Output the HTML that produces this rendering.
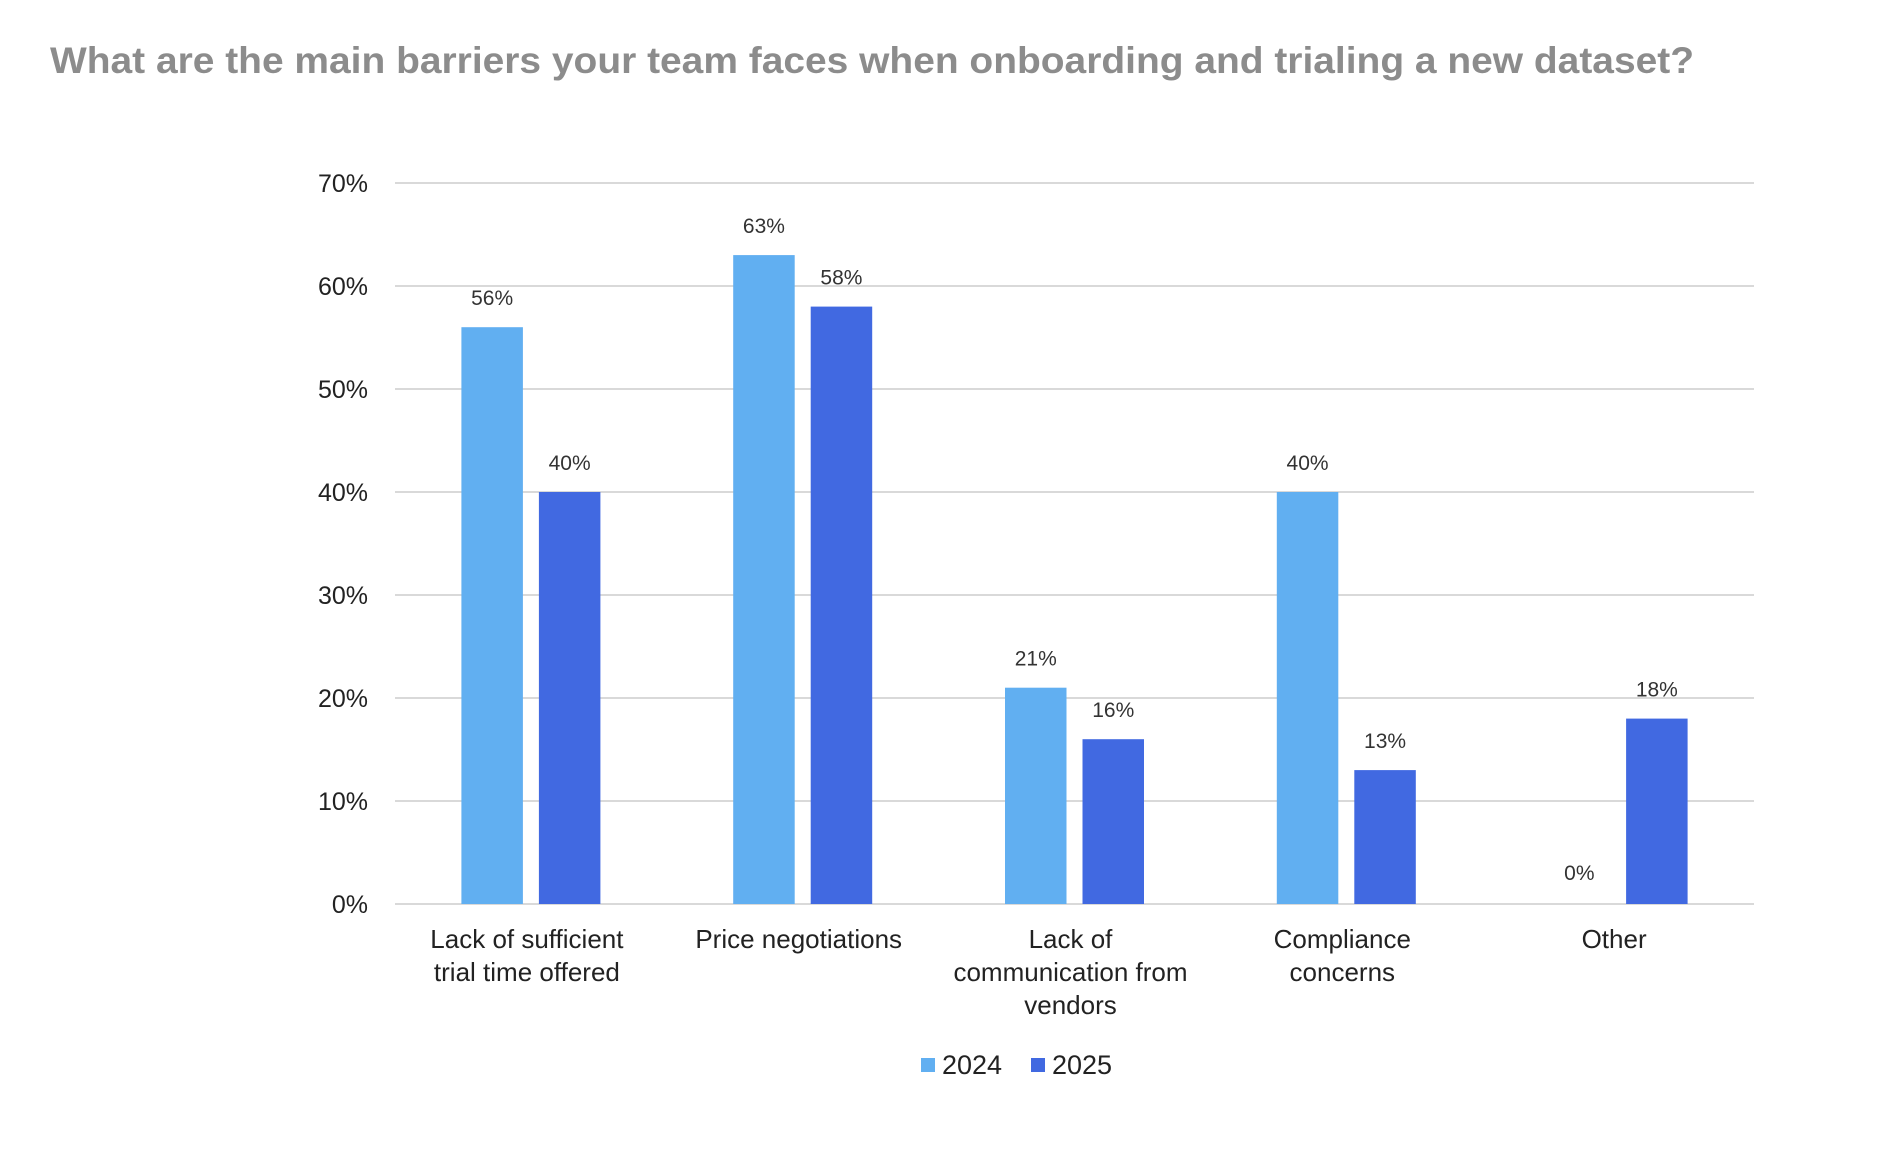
<!DOCTYPE html>
<html><head><meta charset="utf-8"><style>
html,body{margin:0;padding:0;background:#fff;}
svg{display:block;font-family:"Liberation Sans",sans-serif;}
</style></head><body>
<svg id="chart" width="1899" height="1156" viewBox="0 0 1899 1156">
<text x="50" y="73" font-size="37" font-weight="bold" fill="#8c8c8c" textLength="1644" lengthAdjust="spacingAndGlyphs">What are the main barriers your team faces when onboarding and trialing a new dataset?</text>
<g id="grid"></g><g id="bars"></g><g id="labels"></g>
<g>
<rect x="921" y="1058" width="14" height="14" fill="#61aff1"/>
<text x="942" y="1074" font-size="27" fill="#222">2024</text>
<rect x="1031" y="1058" width="14" height="14" fill="#4169e1"/>
<text x="1052" y="1074" font-size="27" fill="#222">2025</text>
</g>
</svg>
<script>
const categories=[["Lack of sufficient","trial time offered"],["Price negotiations"],["Lack of","communication from","vendors"],["Compliance","concerns"],["Other"]];
const values2024=[56,63,21,40,0];
const values2025=[40,58,16,13,18];
const yTicks=[0,10,20,30,40,50,60,70];
const NS="http://www.w3.org/2000/svg";
const L=395,R=1754,T=183,B=904,MAX=70;
const y=v=>B-(B-T)*v/MAX;
const band=(R-L)/categories.length;
const cx=i=>L+band*(i+0.5);
function mk(tag,a,p){const e=document.createElementNS(NS,tag);for(const k in a)e.setAttribute(k,a[k]);p.appendChild(e);return e;}
const grid=document.getElementById('grid'),bars=document.getElementById('bars'),labels=document.getElementById('labels');
yTicks.forEach(t=>{
 const l=mk('line',{x1:L,x2:R,y1:y(t),y2:y(t),stroke:'#d9d9d9','stroke-width':2},grid);
 
 
 const tx=mk('text',{x:368,y:y(t)+9,'font-size':25,fill:'#222','text-anchor':'end'},grid);
 tx.textContent=t+'%';
 
 
});
const bw=61.5,gap=16;
[[values2024,'#61aff1','2024',-1],[values2025,'#4169e1','2025',1]].forEach(([vals,col,yr,s])=>{
 vals.forEach((v,i)=>{
  const x=s<0?cx(i)-gap/2-bw:cx(i)+gap/2;
  const r=mk('rect',{x:x,y:y(v),width:bw,height:B-y(v),fill:col},bars);
  
  
  const t=mk('text',{x:x+bw/2,y:y(v)-(v===0?24:22),'font-size':21,fill:'#333','text-anchor':'middle'},labels);
  t.textContent=v+'%';
  
  
 });
});
categories.forEach((lines,i)=>{
 lines.forEach((ln,j)=>{
  const t=mk('text',{x:cx(i)-4,y:948+j*33,'font-size':26,fill:'#222','text-anchor':'middle'},labels);
  t.textContent=ln;
  
  
 });
});
</script>
</body></html>
